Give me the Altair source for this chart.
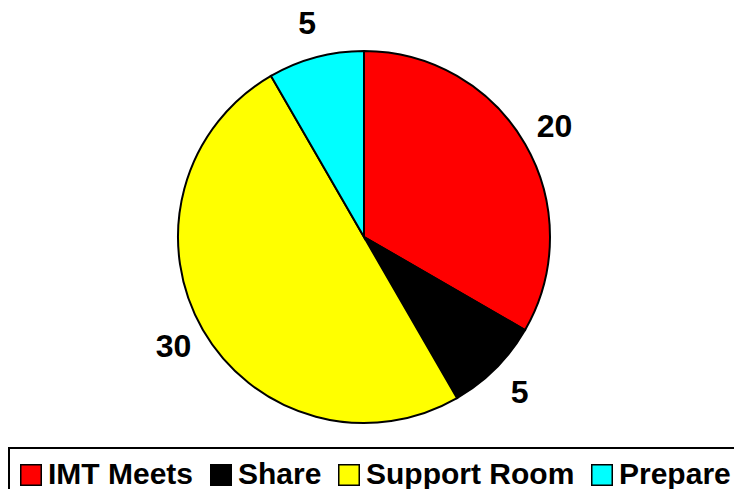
import altair as alt
import pandas as pd

categories = ["IMT Meets", "Share", "Support Room", "Prepare"]
values = [20, 5, 30, 5]
colors = ["#FF0000", "#000000", "#FFFF00", "#00FFFF"]

df = pd.DataFrame({"category": categories, "value": values, "order": list(range(len(categories)))})

FONT = "Liberation Sans"

base = alt.Chart(df).encode(
    theta=alt.Theta("value:Q", stack=True),
    order=alt.Order("order:Q"),
    x=alt.value(356),
    y=alt.value(229),
)

arcs = base.mark_arc(radius=186, stroke="black", strokeWidth=2).encode(
    color=alt.Color(
        "category:N",
        scale=alt.Scale(domain=categories, range=colors),
        sort=categories,
        legend=alt.Legend(
            title=None,
            orient="none",
            legendX=1,
            legendY=440,
            direction="horizontal",
            symbolType="square",
            symbolSize=420,
            symbolOffset=-5,
            symbolStrokeColor="black",
            symbolStrokeWidth=1.5,
            labelFont=FONT,
            labelFontSize=30,
            labelFontWeight="bold",
            labelColor="black",
            labelOffset=2,
            columnPadding=13,
            padding=12,
            strokeColor="black",
            labelLimit=400,
        ),
    )
)

labels = base.mark_text(
    radius=220, fontSize=32, fontWeight="bold", font=FONT, color="black",
    align="center", baseline="middle"
).encode(text=alt.Text("value:Q"))

chart = alt.layer(arcs, labels).properties(
    width=726, height=481, autosize=alt.AutoSizeParams(type="none"), padding=0
).configure_view(stroke=None).configure_legend(strokeWidth=2)

chart.save("out.html", embed_options={"renderer": "svg", "actions": False})
